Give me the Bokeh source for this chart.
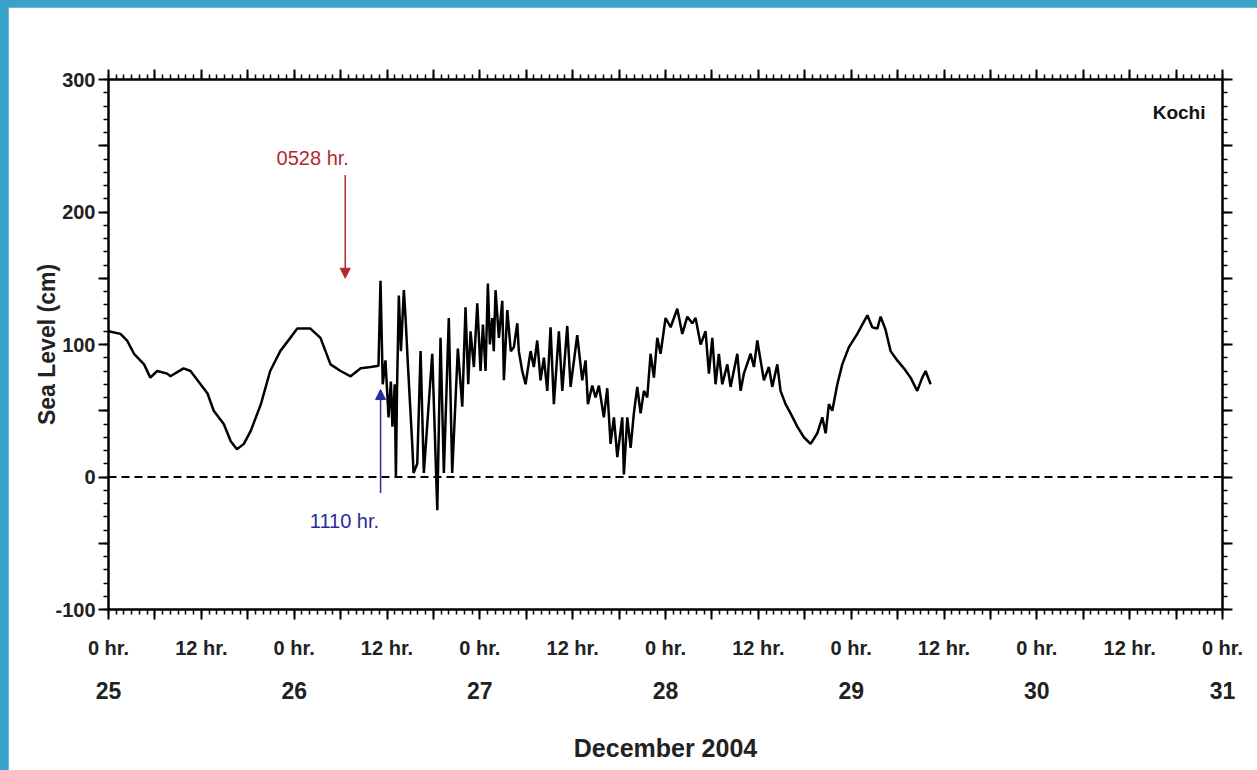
from bokeh.plotting import figure
from bokeh.models import Range1d, LinearAxis, FixedTicker, Span, Label, Arrow, NormalHead
from bokeh.embed import file_html
from bokeh.resources import INLINE

# ---- data: hours since 0 hr, 25 December 2004 ; sea level (cm) at Kochi ----
hours = [0.0, 1.55, 2.4, 3.3, 4.6, 5.4, 6.3, 7.6, 8.0, 9.7, 10.6, 11.9, 12.8, 13.6, 14.9,
         15.8, 16.6, 17.5, 18.4, 19.7, 20.9, 22.2, 23.5, 24.4, 26.1, 27.4, 28.7, 30.0,
         31.3, 32.6, 33.9, 34.9,
         35.16, 35.45, 35.8, 36.2, 36.5, 36.7, 37.0, 37.15, 37.3, 37.53, 37.8, 38.18,
         38.4, 38.7, 39.26, 39.43, 39.91, 40.34, 40.76, 41.85, 42.28, 42.5, 42.92, 43.35,
         43.99, 44.43, 45.16, 45.73, 46.15, 46.5, 46.8, 47.23, 47.67, 48.09, 48.4, 48.74,
         49.04, 49.3, 49.61, 49.8, 50.03, 50.46, 50.9, 51.11, 51.55, 52.0, 52.4, 52.84,
         53.04, 53.48, 53.91, 54.56, 54.98, 55.42, 55.85, 56.28, 56.72, 57.14, 57.57,
         58.22, 58.66, 59.3, 59.73, 60.59, 61.24, 61.67, 61.97, 62.53, 62.96, 63.39,
         64.03, 64.47, 64.9, 65.33, 65.77, 66.41, 66.62, 67.06, 67.49, 67.91, 68.35,
         68.78, 69.21, 69.64, 70.07, 70.5, 70.94, 71.36, 72.01, 72.66, 73.52, 74.17,
         74.82, 75.46, 75.89, 76.54, 77.18, 77.61, 78.05, 78.47, 78.9, 79.34, 79.99,
         80.41, 81.28, 81.71, 82.13, 83.0, 83.43, 83.87, 84.29, 84.72, 85.36, 85.8,
         86.45, 86.87, 87.52, 88.17, 89.04, 89.89, 90.76, 91.62, 92.27, 92.7, 93.12,
         93.56, 94.21, 94.85, 95.71, 96.79, 98.09, 98.73, 99.38, 99.81, 100.45, 101.1,
         101.96, 102.82, 103.68, 104.54, 105.19, 105.62, 106.27]
sea_level = [110, 108, 103, 93, 85, 75, 80, 78, 76, 82, 80, 70, 63, 50, 40,
             27, 21, 25, 35, 55, 80, 95, 105, 112, 112, 105, 85, 80,
             76, 82, 83, 84,
             148, 70, 88, 45, 72, 38, 70, 0, 68, 137, 95, 141,
             120, 85, 25, 3, 10, 95, 3, 93, 15, -25, 105, 3,
             120, 3, 97, 53, 128, 70, 110, 83, 131, 80, 115, 80,
             146, 100, 120, 95, 141, 105, 133, 73, 126, 95, 98, 116,
             95, 80, 70, 95, 83, 103, 73, 90, 65, 113, 55,
             110, 65, 114, 68, 107, 73, 88, 55, 69, 60, 69,
             45, 67, 25, 45, 15, 45, 2, 45, 22, 48, 68,
             48, 65, 60, 93, 75, 105, 93, 120, 113, 127, 108,
             121, 116, 120, 100, 110, 78, 105, 70, 93, 70, 85,
             68, 93, 65, 78, 93, 83, 103, 88, 73, 83, 68,
             85, 65, 55, 48, 38, 30, 25, 33, 45, 33, 55,
             50, 70, 85, 98, 108, 122, 113, 112, 121, 111, 95,
             88, 82, 75, 65, 75, 80, 70]

x_major = list(range(0, 145, 6))
x_minor = list(range(0, 145, 1))
hr_labels = {t: ("0 hr." if t % 24 == 0 else "12 hr." if t % 24 == 12 else "") for t in x_major}
day_ticks = [0, 24, 48, 72, 96, 120, 144]
day_names = ["25", "26", "27", "28", "29", "30", "31"]
y_major = list(range(-100, 301, 50))
y_minor = list(range(-100, 301, 10))
y_labels = {v: (str(v) if v % 100 == 0 else "") for v in y_major}

quake_hour, arrival_hour = 30.6, 35.17

FONT = "Liberation Sans"
RED = "#b02a30"
BLUE = "#2b2b9c"
INK = "#222222"

p = figure(width=1249, height=763, x_range=Range1d(0, 144), y_range=Range1d(-100, 300),
           output_backend="svg", toolbar_location=None,
           x_axis_location=None, y_axis_location=None,
           min_border_left=100, min_border_right=35, min_border_top=72, min_border_bottom=161,
           background_fill_color="white", border_fill_color="white",
           outline_line_color="black", outline_line_width=2)
p.xgrid.visible = False
p.ygrid.visible = False


def style(ax, tick_out=10):
    ax.axis_line_width = 2
    ax.axis_line_color = "black"
    ax.major_tick_line_width = 2
    ax.minor_tick_line_width = 1.5
    ax.major_tick_out = tick_out
    ax.minor_tick_out = 5
    ax.major_tick_in = 0
    ax.minor_tick_in = 0
    ax.major_label_text_font = FONT
    ax.major_label_text_font_style = "bold"
    ax.major_label_text_color = INK
    ax.major_label_text_font_size = "20px"


bottom = LinearAxis(ticker=FixedTicker(ticks=x_major, minor_ticks=x_minor),
                    major_label_overrides=hr_labels)
style(bottom)
bottom.major_label_standoff = 17
p.add_layout(bottom, "below")

days = LinearAxis(ticker=FixedTicker(ticks=day_ticks, minor_ticks=[]),
                  major_label_overrides=dict(zip(day_ticks, day_names)),
                  axis_label="December 2004")
style(days)
days.axis_line_color = None
days.major_tick_line_color = None
days.minor_tick_line_color = None
days.major_tick_out = 0
days.minor_tick_out = 0
days.major_label_text_font_size = "23px"
days.major_label_standoff = 20
days.axis_label_text_font = FONT
days.axis_label_text_font_style = "bold"
days.axis_label_text_font_size = "25px"
days.axis_label_text_color = INK
days.axis_label_standoff = 32
p.add_layout(days, "below")

top = LinearAxis(ticker=FixedTicker(ticks=x_major, minor_ticks=x_minor),
                 major_label_overrides={t: "" for t in x_major})
style(top)
top.major_label_text_font_size = "0px"
p.add_layout(top, "above")

left = LinearAxis(ticker=FixedTicker(ticks=y_major, minor_ticks=y_minor),
                  major_label_overrides=y_labels, axis_label="Sea Level (cm)")
style(left)
left.major_label_standoff = 3
left.axis_label_text_font = FONT
left.axis_label_text_font_style = "bold"
left.axis_label_text_font_size = "23px"
left.axis_label_text_color = INK
left.axis_label_standoff = -8
p.add_layout(left, "left")

right = LinearAxis(ticker=FixedTicker(ticks=y_major, minor_ticks=y_minor),
                   major_label_overrides={v: "" for v in y_major})
style(right)
right.major_label_text_font_size = "0px"
p.add_layout(right, "right")

p.add_layout(Span(location=0, dimension="width", line_color="black",
                  line_width=2, line_dash="8 5"))

p.line(hours, sea_level, line_color="black", line_width=2.5)

p.add_layout(Arrow(end=NormalHead(size=10, fill_color=RED, line_color=RED),
                   x_start=quake_hour, y_start=228, x_end=quake_hour, y_end=150,
                   line_color=RED, line_width=1.5))
p.add_layout(Label(x=26.4, y=241, text="0528 hr.", text_align="center",
                   text_baseline="middle", text_color=RED, text_font=FONT,
                   text_font_size="20px"))

p.add_layout(Arrow(end=NormalHead(size=10, fill_color=BLUE, line_color=BLUE),
                   x_start=arrival_hour, y_start=-12, x_end=arrival_hour, y_end=66,
                   line_color=BLUE, line_width=1.5))
p.add_layout(Label(x=30.5, y=-33, text="1110 hr.", text_align="center",
                   text_baseline="middle", text_color=BLUE, text_font=FONT,
                   text_font_size="20px"))

p.add_layout(Label(x=141.8, y=275, text="Kochi", text_align="right",
                   text_baseline="middle", text_color="#111111", text_font=FONT,
                   text_font_style="bold", text_font_size="19px"))

html = file_html(p, INLINE)
css = ("<style>html,body{background:#39a2c9 !important;}"
       "body{padding:7px 0 0 8px !important;margin:0 !important;overflow:hidden;}</style>")
html = html.replace("</head>", css + "</head>", 1)
open("out.html", "w").write(html)
